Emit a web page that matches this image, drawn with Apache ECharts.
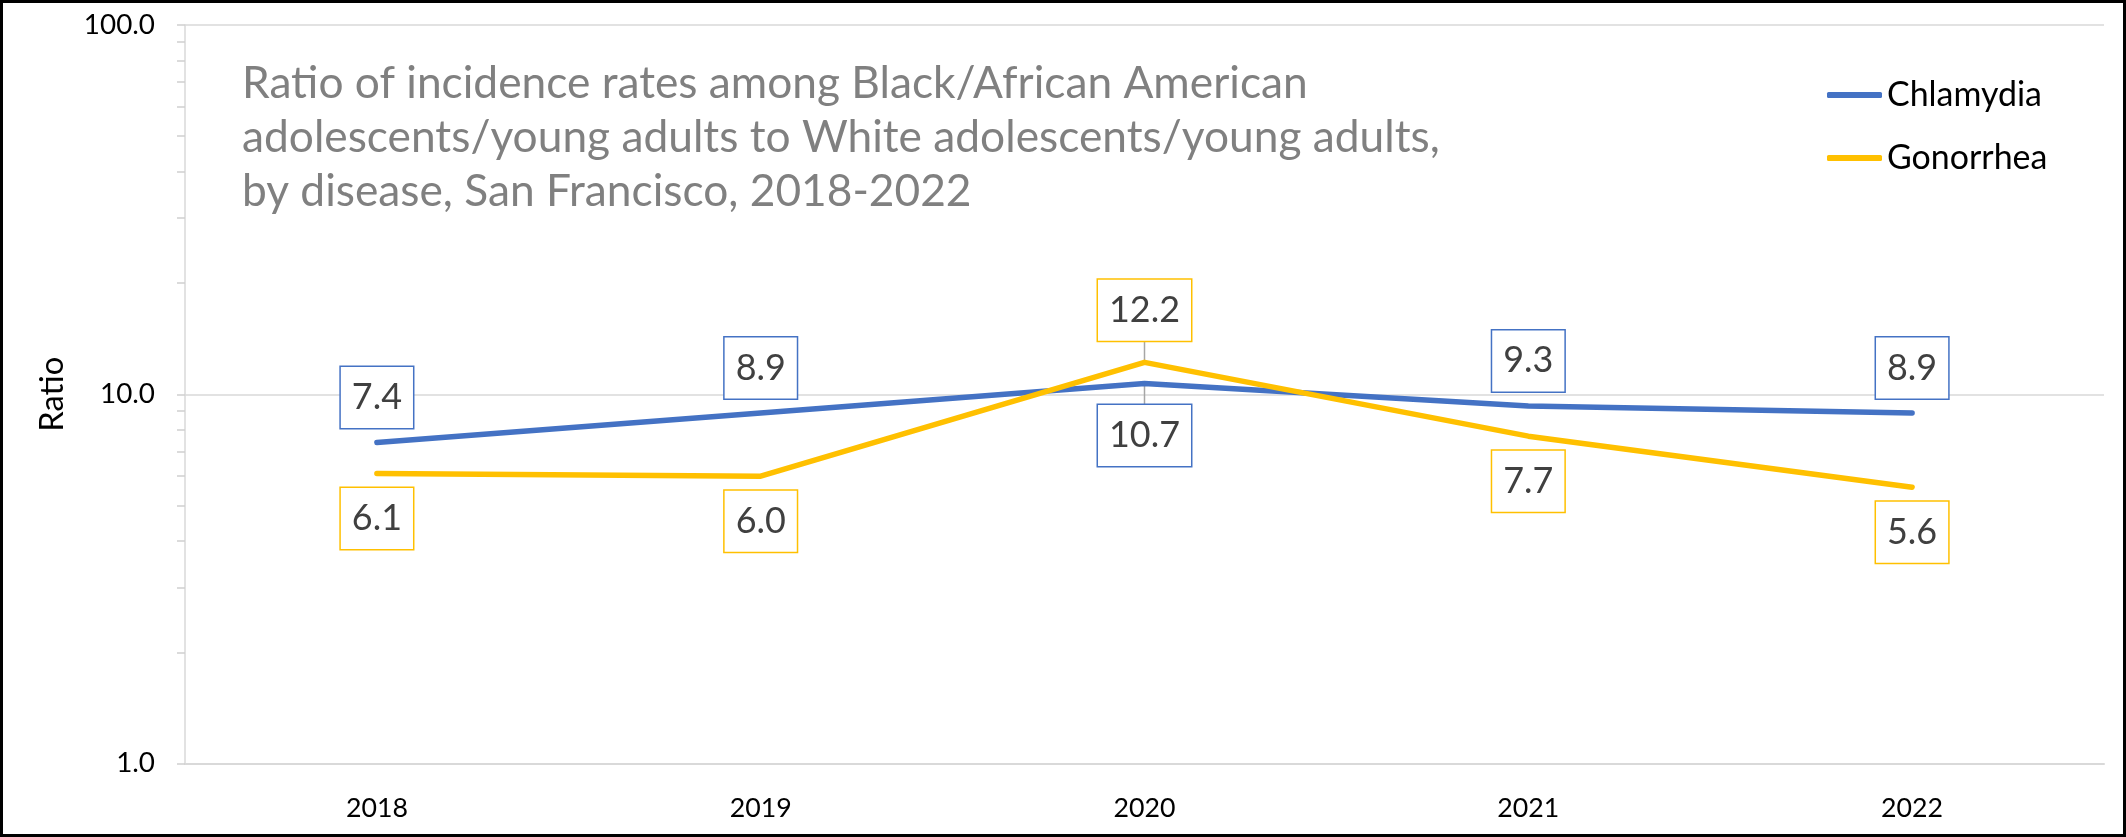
<!DOCTYPE html>
<html>
<head>
<meta charset="utf-8">
<script src="https://cdn.jsdelivr.net/npm/echarts@6/dist/echarts.min.js"></script>
<style>
  html, body { margin: 0; padding: 0; background: #fff; }
  #frame { position: relative; width: 2126px; height: 837px; box-sizing: border-box; border: 3px solid #000; overflow: hidden; }
  #chart { position: absolute; left: -3px; top: -3px; width: 2126px; height: 837px; }
</style>
</head>
<body>
<div id="frame"><div id="chart"></div></div>
<script>
// Years on the horizontal axis
const years = ['2018', '2019', '2020', '2021', '2022'];
// Ratio of Black/African American to White incidence rates
const chlamydia = [7.4, 8.9, 10.7, 9.3, 8.9];
const gonorrhea = [6.1, 6.0, 12.2, 7.7, 5.6];
// Log-scale tick positions: decades plus the 2..9 minor steps
const yTicks = [1, 2, 3, 4, 5, 6, 7, 8, 9, 10, 20, 30, 40, 50, 60, 70, 80, 90, 100];

const titleLines = [
  'Ratio of incidence rates among Black/African American',
  'adolescents/young adults to White adolescents/young adults,',
  'by disease, San Francisco, 2018-2022'
];

const FONT = 'Lato';
const measureCtx = document.createElement('canvas').getContext('2d');
// font size that makes a string span the given width
function fitSize(text, width) {
  measureCtx.font = '100px ' + FONT;
  return 100 * width / measureCtx.measureText(text).width;
}

const titleSize = fitSize(titleLines[1], 1198);
const dataLabelSize = fitSize('12.2', 71);
const yLabelSize = fitSize('10.0', 55);
const xLabelSize = fitSize('2018', 62);
const nameSize = fitSize('Ratio', 75);
const legendSize = fitSize('Chlamydia', 155);

const BLUE = '#4472C4';
const GOLD = '#FFC000';
const GRID_GRAY = '#d9d9d9';
const LEADER_GRAY = '#a6a6a6';

// label side per point: Chlamydia above except 2020, Gonorrhea below except 2020
const chlSide = ['top', 'top', 'bottom', 'top', 'top'];
const gonSide = ['bottom', 'bottom', 'top', 'bottom', 'bottom'];
const leaderIdx = years.indexOf('2020');
const LEADER_GAP = 21;

function seriesData(values, sides) {
  return values.map((v, i) => ({
    value: v,
    label: { position: sides[i], distance: i === leaderIdx ? LEADER_GAP : 14 }
  }));
}

function labelStyle(color) {
  return {
    show: true,
    formatter: p => p.value.toFixed(1),
    fontFamily: FONT,
    fontSize: dataLabelSize,
    color: '#404040',
    lineHeight: 49,
    padding: [6, 11],
    backgroundColor: '#fff',
    borderColor: color,
    borderWidth: 1.5
  };
}

function lineSeries(name, values, sides, color) {
  return {
    name: name,
    type: 'line',
    data: seriesData(values, sides),
    symbol: 'circle',
    symbolSize: 1,
    showSymbol: true,
    itemStyle: { color: 'rgba(0,0,0,0)', borderWidth: 0 },
    lineStyle: { color: color, width: 5.5, cap: 'round', join: 'round' },
    label: labelStyle(color),
    emphasis: { disabled: true },
    animation: false,
    z: 3
  };
}

// short leader lines joining the 2020 points to their labels (dir -1 = up, +1 = down)
const leaderData = [
  [leaderIdx, gonorrhea[leaderIdx], gonSide[leaderIdx] === 'top' ? -1 : 1],
  [leaderIdx, chlamydia[leaderIdx], chlSide[leaderIdx] === 'top' ? -1 : 1]
];

const chart = echarts.init(document.getElementById('chart'), null, { renderer: 'canvas' });
chart.setOption({
  backgroundColor: '#fff',
  textStyle: { fontFamily: FONT },
  title: {
    text: titleLines.join('\n'),
    left: 242,
    top: 57,
    padding: 0,
    textStyle: {
      fontFamily: FONT,
      fontWeight: 'normal',
      fontSize: titleSize,
      lineHeight: 54,
      color: '#808080'
    }
  },
  legend: {
    orient: 'vertical',
    left: 1827,
    top: 75,
    padding: 0,
    itemWidth: 55,
    itemHeight: 6,
    itemGap: 23,
    icon: 'roundRect',
    data: [
      { name: 'Chlamydia', itemStyle: { color: BLUE } },
      { name: 'Gonorrhea', itemStyle: { color: GOLD } }
    ],
    textStyle: { fontFamily: FONT, fontSize: legendSize, color: '#000', lineHeight: 40 }
  },
  grid: { left: 185, right: 22, top: 25, bottom: 73.5 },
  xAxis: {
    type: 'category',
    data: years,
    boundaryGap: true,
    axisLine: { show: true, lineStyle: { color: GRID_GRAY, width: 2 } },
    axisTick: { show: false },
    axisLabel: { fontFamily: FONT, fontSize: xLabelSize, color: '#000', margin: 31 }
  },
  yAxis: [
    {
      // labels, name, axis line and all ticks
      type: 'log',
      logBase: 10,
      min: 1,
      max: 100,
      position: 'left',
      name: 'Ratio',
      nameLocation: 'middle',
      nameGap: 116,
      nameRotate: 90,
      nameTextStyle: { fontFamily: FONT, fontSize: nameSize, color: '#000' },
      axisLine: { show: true, lineStyle: { color: GRID_GRAY, width: 1.5 } },
      axisTick: { show: true, inside: false, length: 8, customValues: yTicks, lineStyle: { color: '#cfcfcf', width: 1.5 } },
      axisLabel: {
        fontFamily: FONT, fontSize: yLabelSize, color: '#000', margin: 30,
        formatter: v => Number(v).toFixed(1)
      },
      splitLine: { show: false }
    },
    {
      // decade gridlines only
      type: 'log',
      logBase: 10,
      min: 1,
      max: 100,
      position: 'left',
      offset: 0,
      axisLine: { show: false },
      axisTick: { show: false },
      axisLabel: { show: false },
      splitLine: { show: true, lineStyle: { color: GRID_GRAY, width: 1.5 } }
    }
  ],
  series: [
    {
      type: 'custom',
      yAxisIndex: 0,
      data: leaderData,
      renderItem: (params, api) => {
        const p = api.coord([api.value(0), api.value(1)]);
        const dir = api.value(2);
        return {
          type: 'line',
          shape: { x1: p[0], y1: p[1], x2: p[0], y2: p[1] + dir * (LEADER_GAP + 0.5) },
          style: { stroke: LEADER_GRAY, lineWidth: 1.5 }
        };
      },
      silent: true,
      animation: false,
      z: 2
    },
    lineSeries('Chlamydia', chlamydia, chlSide, BLUE),
    lineSeries('Gonorrhea', gonorrhea, gonSide, GOLD)
  ]
});
</script>
</body>
</html>
